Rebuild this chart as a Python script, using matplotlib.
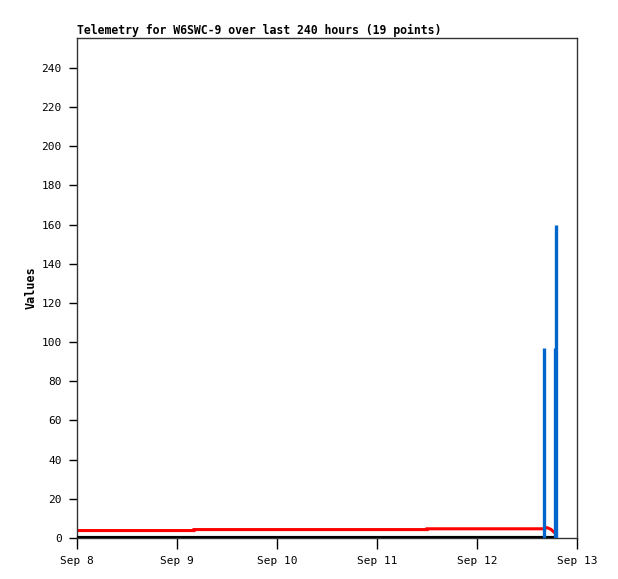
import matplotlib
matplotlib.use("Agg")
import matplotlib.pyplot as plt

# time in days since Sep 8 00:00
red_t = [0.0, 0.6, 1.17, 1.17, 1.8, 2.4, 3.0, 3.5, 3.5, 4.0, 4.4, 4.67, 4.70, 4.74, 4.77]
red_v = [3.8, 3.8, 3.8, 4.3, 4.3, 4.3, 4.3, 4.3, 4.7, 4.7, 4.7, 4.7, 5.3, 4.4, 3.0]
blue_t = [4.67, 4.775, 4.79]
blue_v = [97, 97, 160]
zero_t = [0.0, 4.8]
zero_v = [0, 0]
xtick_labels = ["Sep 8", "Sep 9", "Sep 10", "Sep 11", "Sep 12", "Sep 13"]
yticks = list(range(0, 241, 20))

plt.rcParams['font.family'] = ['DejaVu Sans Mono']

fig = plt.figure(figsize=(6.18, 5.79), dpi=100)
ax = fig.add_axes([77/618, 1 - 538/579, 500/618, 500/579])

ax.plot(zero_t, zero_v, color="black", lw=3, solid_capstyle="butt", zorder=3)
ax.plot(red_t, red_v, color="#ff0000", lw=2.2, solid_joinstyle="miter", zorder=2)
ax.vlines(blue_t, 0, blue_v, color="#0066cc", lw=2.4, zorder=4)

ax.set_xlim(0, 5)
ax.set_ylim(0, 255.3)
ax.set_xticks(range(6))
ax.set_xticklabels(xtick_labels)
ax.set_yticks(yticks)
ax.tick_params(axis="x", direction="out", length=8, width=1, labelsize=8, pad=5)
ax.tick_params(axis="y", direction="out", length=6, width=1, labelsize=8, pad=5)
for s in ax.spines.values():
    s.set_color("#333333")
    s.set_linewidth(1)

ax.set_ylabel("Values", fontsize=8.5, fontweight="bold", labelpad=3)
ax.set_title("Telemetry for W6SWC-9 over last 240 hours (19 points)",
             loc="left", fontsize=8.3, fontweight="bold", pad=3)

fig.savefig("out.png", dpi=100)
